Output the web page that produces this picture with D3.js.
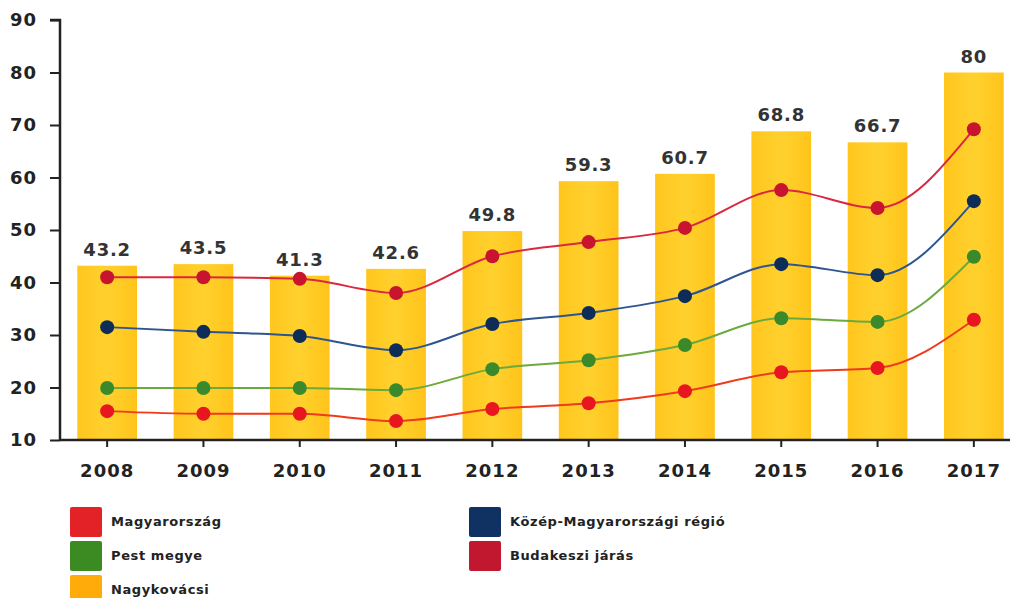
<!DOCTYPE html>
<html>
<head>
<meta charset="utf-8">
<script src="https://cdn.jsdelivr.net/npm/d3@7"></script>
<style>
  body { margin: 0; background: #fff; }
  text { font-family: "DejaVu Sans", Verdana, sans-serif; font-weight: bold; }
</style>
</head>
<body>
<div id="chart"></div>
<script>
"use strict";

var years = ["2008", "2009", "2010", "2011", "2012", "2013", "2014", "2015", "2016", "2017"];
var nagykovacsi = [43.2, 43.5, 41.3, 42.6, 49.8, 59.3, 60.7, 68.8, 66.7, 80];
var budakeszi = [41.0, 41.0, 40.7, 38.0, 45.0, 47.7, 50.4, 57.6, 54.2, 69.2];
var kozep = [31.5, 30.6, 29.8, 27.1, 32.1, 34.2, 37.4, 43.5, 41.4, 55.5];
var pest = [19.9, 19.9, 19.9, 19.5, 23.5, 25.2, 28.1, 33.2, 32.5, 44.9];
var magyar = [15.5, 15.0, 15.0, 13.6, 15.9, 17.0, 19.3, 22.9, 23.7, 32.9];
var yTicks = [10, 20, 30, 40, 50, 60, 70, 80, 90];

var w = 1011;
var h = 598;

var svg = d3.select("#chart")
    .append("svg")
    .attr("width", w)
    .attr("height", h);

//Scales
var x = d3.scaleBand()
    .domain(years)
    .range([59, 1022])
    .paddingInner(0.38)
    .paddingOuter(0.19);

var y = d3.scaleLinear()
    .domain([10, 90])
    .range([440, 20]);

//Bars
var grad = svg.append("defs").append("linearGradient")
    .attr("id", "barGrad")
    .attr("x1", "0%").attr("x2", "100%");
grad.append("stop").attr("offset", "0%").attr("stop-color", "#FFC61E");
grad.append("stop").attr("offset", "50%").attr("stop-color", "#FFD12E");
grad.append("stop").attr("offset", "100%").attr("stop-color", "#FFC41A");

svg.selectAll("rect.bar")
    .data(nagykovacsi)
    .enter()
    .append("rect")
    .attr("class", "bar")
    .attr("x", function (d, i) { return x(years[i]); })
    .attr("y", function (d) { return y(d); })
    .attr("width", x.bandwidth())
    .attr("height", function (d) { return y(10) - y(d); })
    .attr("fill", "url(#barGrad)");

//Bar labels
svg.selectAll("text.val")
    .data(nagykovacsi)
    .enter()
    .append("text")
    .attr("class", "val")
    .attr("x", function (d, i) { return x(years[i]) + x.bandwidth() / 2; })
    .attr("y", function (d) { return y(d) - 10; })
    .attr("text-anchor", "middle")
    .attr("font-size", 18)
    .attr("letter-spacing", 0.8)
    .attr("fill", "#333")
    .text(function (d) { return d; });

//Lines
var series = [
    { name: "Budakeszi járás", values: budakeszi, line: "#D9283F", dot: "#C8142E" },
    { name: "Közép-Magyarországi régió", values: kozep, line: "#2F5590", dot: "#0E2C58" },
    { name: "Pest megye", values: pest, line: "#6BAA3C", dot: "#3A8A2C" },
    { name: "Magyarország", values: magyar, line: "#F03A1C", dot: "#E8171F" }
];

var line = d3.line()
    .x(function (d, i) { return x(years[i]) + x.bandwidth() / 2; })
    .y(function (d) { return y(d); })
    .curve(d3.curveMonotoneX);

series.forEach(function (s) {
    svg.append("path")
        .attr("d", line(s.values))
        .attr("fill", "none")
        .attr("stroke", s.line)
        .attr("stroke-width", 2);

    svg.selectAll(null)
        .data(s.values)
        .enter()
        .append("circle")
        .attr("cx", function (d, i) { return x(years[i]) + x.bandwidth() / 2; })
        .attr("cy", function (d) { return y(d); })
        .attr("r", 7)
        .attr("fill", s.dot);
});

//Axes
var yAxis = svg.append("g")
    .attr("transform", "translate(60,0)")
    .call(d3.axisLeft(y).tickValues(yTicks).tickSize(10).tickPadding(13));

var xAxis = svg.append("g")
    .attr("transform", "translate(0,440)")
    .call(d3.axisBottom(x).tickSize(7).tickPadding(17));

[yAxis, xAxis].forEach(function (g) {
    g.select(".domain").attr("stroke", "#222").attr("stroke-width", 2.5);
    g.selectAll(".tick line").attr("stroke", "#222").attr("stroke-width", 2);
    g.selectAll(".tick text")
        .attr("font-size", 18)
        .attr("letter-spacing", 1)
        .attr("font-family", "DejaVu Sans, sans-serif")
        .attr("font-weight", "bold")
        .attr("fill", "#222");
});
yAxis.select(".domain").attr("d", "M-10,20H0V440");
xAxis.select(".domain").attr("d", "M60,0H1010");

//Legend
var legendItems = [
    { name: "Magyarország", color: "#E32227", col: 0, row: 0 },
    { name: "Pest megye", color: "#3C8A22", col: 0, row: 1 },
    { name: "Nagykovácsi", color: "#FFAC0A", col: 0, row: 2 },
    { name: "Közép-Magyarországi régió", color: "#0F3262", col: 1, row: 0 },
    { name: "Budakeszi járás", color: "#C1172F", col: 1, row: 1 }
];

var legend = svg.selectAll("g.leg")
    .data(legendItems)
    .enter()
    .append("g")
    .attr("class", "leg")
    .attr("transform", function (d) {
        return "translate(" + (d.col === 0 ? 70 : 469) + "," + (507 + d.row * 34) + ")";
    });

legend.append("rect")
    .attr("width", 32)
    .attr("height", 30)
    .attr("rx", 2)
    .attr("fill", function (d) { return d.color; });

legend.append("text")
    .attr("x", 41)
    .attr("y", 19)
    .attr("font-size", 13)
    .attr("letter-spacing", 0.6)
    .attr("fill", "#222")
    .text(function (d) { return d.name; });
</script>
</body>
</html>
